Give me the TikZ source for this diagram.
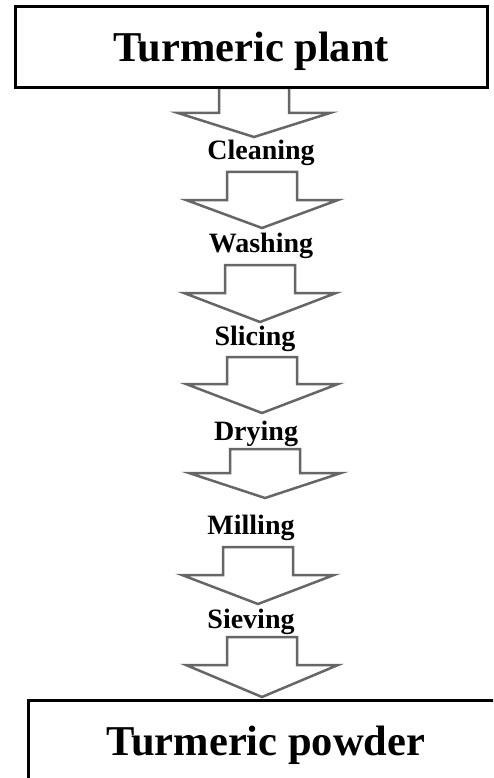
\documentclass[tikz,border=0pt]{standalone}
\usepackage{fontspec}
\setmainfont{Liberation Serif}
\definecolor{arrowgray}{HTML}{666666}
\tikzset{
  bigbox/.style={draw=black, line width=3pt, fill=white, inner sep=0pt,
    font=\fontsize{42.5}{46}\selectfont\bfseries, text height=29pt, text depth=0pt},
  steplabel/.style={anchor=base, inner sep=0pt, font=\fontsize{28}{32}\selectfont\bfseries},
  blockarrow/.style={draw=arrowgray, line width=2.5pt, fill=white, line join=miter}
}
\newcommand\blockdown[4]{%
  \draw[blockarrow] (#1-35,#2) -- (#1+35,#2) -- (#1+35,#3) -- (#1+76,#3) -- (#1,#4)
    -- (#1-76,#3) -- (#1-35,#3) -- cycle;}
\begin{document}
\begin{tikzpicture}[x=1pt,y=-1pt]
\clip (0,0) rectangle (493,778);
\fill[white] (0,0) rectangle (493,778);
% block arrows
\blockdown{254}{88}{113}{137}
\blockdown{262}{172}{200}{228}
\blockdown{260}{265}{293}{322}
\blockdown{262}{357}{384}{413}
\blockdown{265}{449}{473}{498}
\blockdown{258}{547}{575}{604}
\blockdown{262}{637}{665}{697}
% boxes
\node[bigbox, minimum width=472pt, minimum height=81pt] (plant) at (251,47.5) {Turmeric plant};
\node[bigbox, minimum width=476pt, minimum height=81pt] (powder) at (266,740.5) {Turmeric powder};
% step labels
\node[steplabel] (cleaning) at (261,160) {Cleaning};
\node[steplabel] (washing) at (261,252) {Washing};
\node[steplabel] (slicing) at (255,345) {Slicing};
\node[steplabel] (drying) at (256,440) {Drying};
\node[steplabel] (milling) at (251,534) {Milling};
\node[steplabel] (sieving) at (251,628) {Sieving};
\end{tikzpicture}
\end{document}
